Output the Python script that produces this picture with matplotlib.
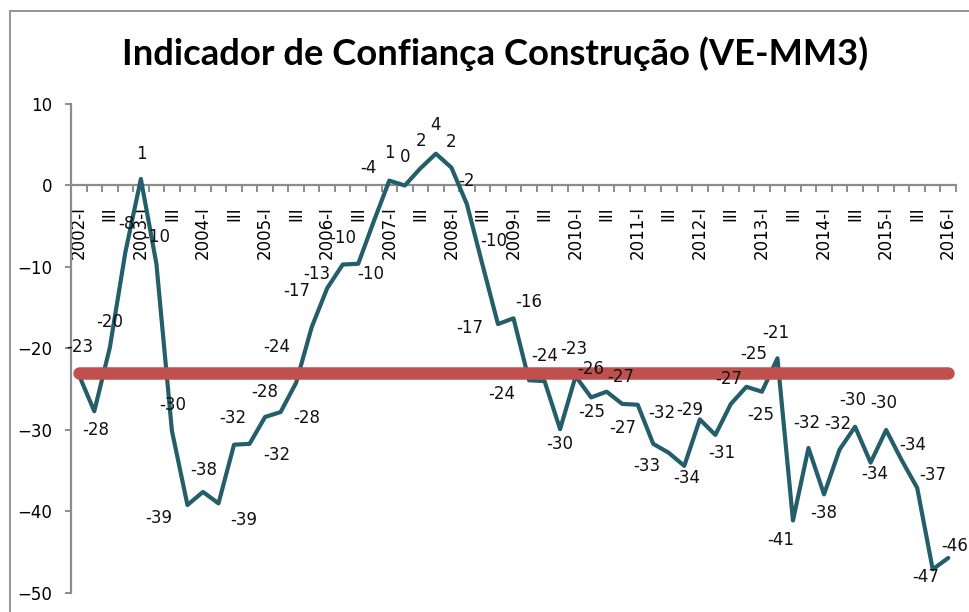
import matplotlib
matplotlib.use("Agg")
import matplotlib.pyplot as plt
from matplotlib.patches import Rectangle

# ---------------- data ----------------
years = list(range(2002, 2017))
quarters = ["I", "II", "III", "IV"]
categories = [f"{y}-{q}" for y in years for q in quarters][:57]

values = [-23.2, -27.7, -19.9, -8.2, 0.8, -9.6, -30.1, -39.2, -37.6, -39.0,
          -31.8, -31.7, -28.4, -27.8, -24.2, -17.4, -12.6, -9.7, -9.6, -4.4,
          0.6, 0.0, 2.1, 3.9, 2.2, -2.3, -9.7, -17.0, -16.3, -23.9,
          -24.0, -29.9, -23.4, -26.0, -25.3, -26.8, -26.9, -31.7, -32.8, -34.4,
          -28.7, -30.6, -26.8, -24.7, -25.3, -21.2, -41.1, -32.2, -37.9, -32.4,
          -29.6, -34.0, -30.0, -33.7, -37.1, -47.1, -45.7]

reference_value = -23.0

title = "Indicador de Confiança Construção (VE-MM3)"

# label offsets in pixels (dx, dy up)
label_offsets = [(1, 28), (1, -19), (0, 26), (1, 28), (1, 25), (0, 27), (1, 26),
                 (-29, -13.5), (1, 22), (25, -16.5), (-1, 26.5), (27, -11), (0, 25),
                 (26, -6), (-19.5, 36), (-15, 36), (-10.6, 14.4), (0, 27), (12.7, -10.7),
                 (-5, 53.5), (0, 27.7), (0, 28.6), (1, 27), (0, 29), (0, 26), (0, 23),
                 (11, 23.5), (-28, -4), (15, 16), (-27.5, -14), (0, 25), (0, -14.4),
                 (-1.5, 27), (0, 28), (-14.5, -20), (-1, 27), (-14.6, -23), (9, 31),
                 (-22, -13), (2, -12), (-10, 9), (6, -18), (-2, 25), (7.5, 32.5),
                 (-1.5, -23.6), (-2, 25.6), (-12.5, -19.6), (-2, 25.3), (0, -18.7),
                 (-2, 26), (-2, 26.5), (4, -11.6), (-2, 26.8), (11, 15), (16, 13),
                 (-7, -8), (6.5, 12)]

# ---------------- figure ----------------
W, H = 970, 612
fig = plt.figure(figsize=(W / 100, H / 100), dpi=100)
fig.patch.set_facecolor("white")

# chart area border
fig.add_artist(Rectangle((10 / W, -0.2), 1.2, 1 - 11 / H + 0.2,
                         transform=fig.transFigure, fill=False,
                         edgecolor="#8c8c8c", linewidth=1.3))

ax = fig.add_axes([71 / W, 1 - 593 / H, (956 - 71) / W, (593 - 104) / H])
ax.set_axisbelow(True)

n = len(values)
x = list(range(n))

ax.plot(x, values, color="#245E6A", linewidth=3.0,
        solid_joinstyle="round", solid_capstyle="round", zorder=3)
ax.plot([x[0], x[-1]], [reference_value, reference_value], color="#C0504D",
        linewidth=9.0, solid_capstyle="round", zorder=4)

for i, v in enumerate(values):
    dx, dy = label_offsets[i]
    ax.annotate(f"{int(round(v))}", xy=(i, v), xytext=(dx, dy),
                textcoords="offset pixels", ha="center", va="center",
                fontsize=12, color="#111111", zorder=6)

ax.set_xlim(-0.5, n - 0.5)
ax.set_ylim(-50, 10)
ax.set_yticks(range(-50, 11, 10))

# x axis crossing at 0
for s in ("top", "right"):
    ax.spines[s].set_visible(False)
ax.spines["bottom"].set_position(("data", 0))
ax.spines["bottom"].set_color("#8c8c8c")
ax.spines["bottom"].set_linewidth(1.6)
ax.spines["left"].set_color("#8c8c8c")
ax.spines["left"].set_linewidth(1.6)

shown = [i for i in range(n) if i % 2 == 0]
shown_labels = [categories[i] if i % 4 == 0 else categories[i].split("-")[1] for i in shown]
ax.set_xticks(shown)
ax.set_xticklabels(shown_labels, rotation=90, fontsize=12, va="top", ha="center")
ax.set_xticks([i + 0.5 for i in range(-1, n)], minor=True)
ax.tick_params(axis="x", which="major", length=0, pad=15)
ax.tick_params(axis="x", which="minor", length=5, width=1.4, color="#8c8c8c", direction="out")
ax.tick_params(axis="y", length=4.5, width=1.4, color="#8c8c8c", direction="out",
               labelsize=12, pad=9)

fig.text(495 / W, 1 - 54 / H, title, ha="center", va="center",
         fontsize=26.2, fontweight="bold", family=["Lato", "DejaVu Sans"])

fig.savefig("out.png", dpi=100)
